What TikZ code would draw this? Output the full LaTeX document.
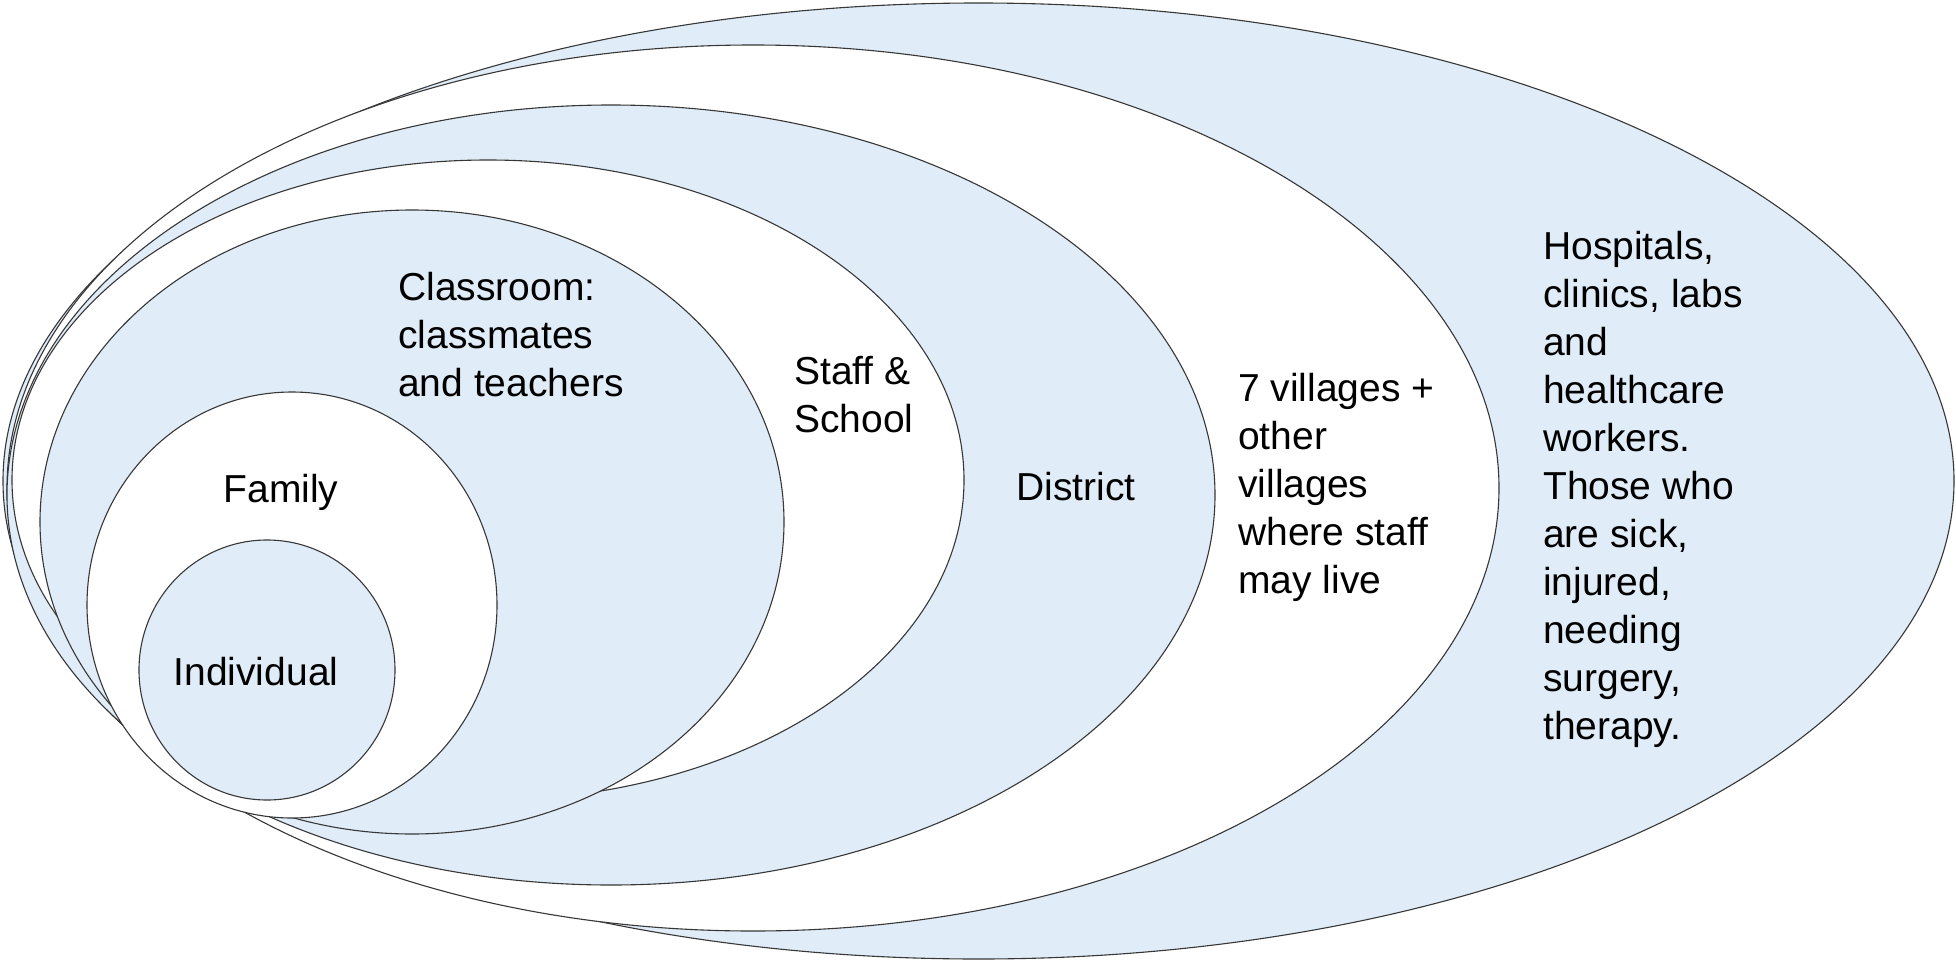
\documentclass[tikz,border=0pt]{standalone}
\usepackage{fontspec}
\setmainfont{Liberation Sans}
\definecolor{ringblue}{RGB}{224,236,247}
\definecolor{ringline}{RGB}{55,55,55}
\begin{document}
\begin{tikzpicture}[x=1pt,y=-1pt,
  ring/.style={draw=ringline,line width=1.1pt},
  bluering/.style={ring,fill=ringblue},
  whitering/.style={ring,fill=white},
  ringtext/.style={inner sep=0pt,font=\fontsize{39}{48}\selectfont,align=left,text=black}]
% page
\fill[white] (0,0) rectangle (1956,963);
\useasboundingbox (0,0) rectangle (1956,963);

% nested rings, from the outermost inwards
\path[bluering]  (978.5,481) ellipse [x radius=975.5pt, y radius=478pt];
\path[whitering] (753,488)   ellipse [x radius=746pt,   y radius=443pt];
\path[bluering]  (611,495)   ellipse [x radius=604pt,   y radius=390pt];
\path[whitering] (488,480)   ellipse [x radius=476pt,   y radius=320pt];
\path[bluering]  (412,522)   ellipse [x radius=372pt,   y radius=312pt];
\path[whitering] (292,605)   ellipse [x radius=205pt,   y radius=213pt];
\path[bluering]  (267,670)   ellipse [x radius=128pt,   y radius=130pt];

% ring labels
\node[ringtext,anchor=base] (individual) at (256,685) {Individual};
\node[ringtext,anchor=base] (family) at (281,502) {Family};
\node[ringtext,anchor=north west] (classroom) at (398,272)
  {Classroom:\\classmates\\and teachers};
\node[ringtext,anchor=north west] (staff) at (794,356) {Staff \&\\School};
\node[ringtext,anchor=base west] (district) at (1016,500) {District};
\node[ringtext,anchor=north west] (villages) at (1238,373)
  {7 villages +\\other\\villages\\where staff\\may live};
\node[ringtext,anchor=north west] (health) at (1543,231)
  {Hospitals,\\clinics, labs\\and\\healthcare\\workers.\\Those who\\are sick,\\injured,\\needing\\surgery,\\therapy.};
\end{tikzpicture}
\end{document}
